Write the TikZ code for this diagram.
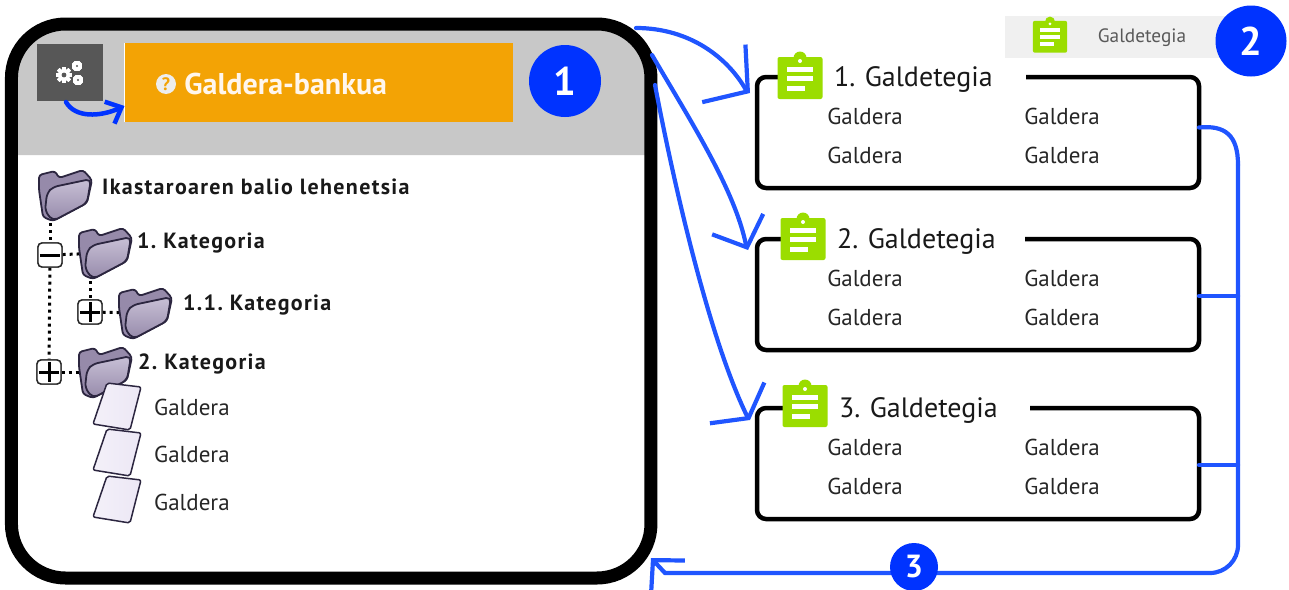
\documentclass[tikz,border=0pt]{standalone}
\usepackage{fontspec}
\setmainfont{PT Sans}
\newfontfamily\treefont[LetterSpace=6]{PT Sans}
\usetikzlibrary{arrows.meta, positioning, calc}
\definecolor{headgrey}{RGB}{200,200,200}
\definecolor{gearbox}{RGB}{87,87,87}
\definecolor{bankorange}{RGB}{243,163,5}
\definecolor{markblue}{RGB}{0,51,255}
\definecolor{linkblue}{RGB}{32,85,255}
\definecolor{clipgreen}{RGB}{155,221,0}
\definecolor{tabgrey}{RGB}{240,240,240}
\definecolor{folderline}{RGB}{44,38,64}
\definecolor{folderlight}{RGB}{200,192,214}
\definecolor{folderdark}{RGB}{150,138,170}
\definecolor{sheetfill}{RGB}{236,231,245}
\tikzset{
    linkline/.style={draw=linkblue, line width=4.2pt, line cap=round},
    quizbox/.style={draw=black, line width=4.5pt, rounded corners=9pt, minimum width=442pt, minimum height=111pt, outer sep=0pt},
    quiztitle/.style={fill=white, anchor=west, text height=18pt, text depth=0pt, inner ysep=8pt, inner xsep=12pt, font=\fontsize{28}{31}\selectfont, text=black!90},
    qtext/.style={font=\fontsize{23}{26}\selectfont, text=black!85},
    treetext/.style={anchor=west, inner sep=0pt, text height=14pt, text depth=0pt, font=\treefont\bfseries\fontsize{22}{25}\selectfont, text=black!90},
    marker/.style={circle, fill=markblue, text=white, font=\bfseries\fontsize{40}{44}\selectfont, inner sep=0pt},
    togglebox/.style={draw=black!85, fill=white, line width=1.4pt, rounded corners=4pt, minimum size=24pt, inner sep=0pt},
    togglebar/.style={draw=black, line width=3pt, shorten >=2.5pt, shorten <=2.5pt},
    treedots/.style={draw=black, line width=3pt, dash pattern=on 3pt off 4pt},
    pics/clipboard/.style={code={
        \fill[clipgreen, rounded corners=2pt] (-22.5,-20) rectangle (22.5,22);
        \fill[clipgreen] (0,-19) circle[radius=6.5];
        \fill[white] (0,-16) circle[radius=2];
        \fill[white] (-13,-10.5) rectangle (13,-5.5);
        \fill[white] (-13,-1) rectangle (13,4);
        \fill[white] (-13,8.5) rectangle (5,13.5);
    }},
    pics/folder/.style={code={
        \filldraw[draw=folderline, line width=1.8pt, fill=folderdark, rounded corners=3pt]
            (-26,-20) -- (-10,-24) -- (-6,-17) -- (18,-25) -- (27,-15) -- (22,8) -- (-12,26) -- (-22,22) -- (-26,-5) -- cycle;
        \filldraw[draw=folderline, line width=1.8pt, top color=folderlight, bottom color=folderdark, rounded corners=5pt]
            (-20,16) -- (-18,-2) -- (-12,-8) -- (26,-16) -- (22,8) -- (-12,26) -- cycle;
    }},
    pics/sheet/.style={code={
        \filldraw[draw=folderline, line width=1.5pt, left color=sheetfill!60!white, right color=sheetfill, rounded corners=2pt]
            (-13,-25) -- (21,-21) -- (10,22) -- (-27,16) -- cycle;
    }},
    pics/gear/.style={code={
        \foreach \a in {0,45,...,315}
            \fill[white, rotate=\a] (-1.8,-#1-2) rectangle (1.8,#1+2);
        \fill[white] (0,0) circle[radius=#1];
        \fill[gearbox] (0,0) circle[radius=#1*0.4];
    }}
}

\begin{document}
\frenchspacing
\begin{tikzpicture}[x=1pt, y=-1pt]
    \useasboundingbox (0,0) rectangle (1289,589);

    \fill[headgrey] (11.5,155) [rounded corners=48pt] -- (11.5,24) -- (651,24) [sharp corners] -- (651,155) -- cycle;
    \node[draw=black, line width=13pt, rounded corners=54pt, minimum width=639.5pt, minimum height=554pt, outer sep=0pt] (panel) at (331.2,301) {};

    \node[fill=gearbox, minimum width=66pt, minimum height=57pt, inner sep=0pt, outer sep=0pt] (gearicon) at (70,72.5) {};
    \pic at (64,75) {gear=6};
    \pic at (77,66) {gear=3};
    \pic at (78,80) {gear=3};
    \node[fill=bankorange, minimum width=388pt, minimum height=79pt, inner sep=0pt, outer sep=0pt] (bankbar) at (318.5,82.5) {};
    \draw[white, line width=1.2pt] (bankbar.north west) -- (bankbar.south west);
    \node[circle, fill=white!93!black, text=bankorange, inner sep=0pt, minimum size=20pt, font=\bfseries\fontsize{18}{18}\selectfont] (helpicon) at (166,84) {?};
    \node[right=8pt of helpicon, inner sep=0pt, text=white!93!orange, font=\bfseries\fontsize{30}{34}\selectfont] (banktitle) {Galdera-bankua};
    \node[marker, minimum size=72pt] (mark1) at (565,81) {1};

    \coordinate (fold0) at (65,195);
    \coordinate (fold1) at (105,253);
    \coordinate (fold2) at (145,313);
    \coordinate (fold3) at (105,372);
    \node[togglebox] (minus1) at (50,255) {};
    \node[togglebox] (plus2) at (90,312) {};
    \node[togglebox] (plus3) at (49,372) {};
    \draw[treedots] (fold0 -| minus1) -- (minus1);
    \draw[treedots] (minus1) -- (plus3);
    \draw[treedots] (fold1 -| plus2) -- (plus2);
    \draw[treedots] (minus1) -- (fold1);
    \draw[treedots] (plus2) -- (fold2);
    \draw[treedots] (plus3) -- (fold3);
    \node[togglebox] at (minus1) {};
    \node[togglebox] at (plus2) {};
    \node[togglebox] at (plus3) {};
    \draw[togglebar] (minus1.west) -- (minus1.east);
    \draw[togglebar] (plus2.west) -- (plus2.east);
    \draw[togglebar] (plus2.north) -- (plus2.south);
    \draw[togglebar] (plus3.west) -- (plus3.east);
    \draw[togglebar] (plus3.north) -- (plus3.south);
    \foreach \f in {0,1,2,3}
        \pic at (fold\f) {folder};

    \node[treetext] (cat0) at (102,187) {Ikastaroaren balio lehenetsia};
    \node[treetext] (cat1) at (137,241) {1. Kategoria};
    \node[treetext] (cat2) at (183,303) {1.1. Kategoria};
    \node[treetext] (cat3) at (138,362) {2. Kategoria};

    \foreach \s/\y/\ly in {1/408/407,2/454/454,3/501/502} {
        \pic at (120,\y) {sheet};
        \node[qtext, anchor=west, inner sep=0pt] (leaf\s) at (154,\ly) {Galdera};
    }

    \node[fill=tabgrey, minimum width=235pt, minimum height=42pt, inner sep=0pt, outer sep=0pt] (quiztab) at (1122.5,37) {};
    \pic[scale=0.76] at (1050,36) {clipboard};
    \node[text=black!65, inner sep=0pt, font=\fontsize{19.3}{22}\selectfont] (tablabel) at (1142,38) {Galdetegia};
    \node[marker, minimum size=71pt] (mark2) at (1251,41) {2};

    \foreach \n/\top/\cx/\cy/\tx/\tw/\lab in {1/77/800/77/822/180/1. Galdetegia, 2/239/803/238/825/176/2. Galdetegia, 3/408/805/405/827/179/3. Galdetegia} {
        \node[quizbox] (quiz\n) at (978,\top+55.5) {};
        \node[quiztitle, text width=\tw pt] (title\n) at (\tx,\top+0.5) {\lab};
        \pic at (\cx,\cy) {clipboard};
        \node[qtext] (q\n a) at ($(quiz\n.north west)+(108,39)$) {Galdera};
        \node[qtext] (q\n b) at ($(quiz\n.north west)+(305,39)$) {Galdera};
        \node[qtext] (q\n c) at ($(quiz\n.north west)+(108,78)$) {Galdera};
        \node[qtext] (q\n d) at ($(quiz\n.north west)+(305,78)$) {Galdera};
    }

    \coordinate (from1) at (636,28);
    \coordinate (from2) at (652,55);
    \coordinate (from3) at (655,85);
    \coordinate (near1) at (746,90);
    \coordinate (near2) at (746,245);
    \coordinate (near3) at (747,416);
    \coordinate (tip1) at (750,93);
    \coordinate (tip2) at (748,250);
    \coordinate (tip3) at (750,420);
    \coordinate (railtop) at (1238,165);
    \coordinate (railbottom) at (1238,573);
    \coordinate (railend) at (665,573);
    \coordinate (backtip) at (651,558);
    \draw[linkline, -{Straight Barb[length=30pt, width=72pt]}] (from1) .. controls (690,28) and (728,58) .. (near1) -- (tip1);
    \draw[linkline, -{Straight Barb[length=25pt, width=55pt]}] (from2) .. controls (690,120) and (735,190) .. (near2) -- (tip2);
    \draw[linkline, -{Straight Barb[length=19pt, width=68pt]}] (from3) .. controls (675,190) and (710,340) .. (near3) -- (tip3);
    \draw[linkline] ($(quiz1.east)+(0,-5)$) .. controls (1225,125) and (1238,135) .. (railtop);
    \draw[linkline, rounded corners=28pt] (railtop) -- (railbottom) -- (railend);
    \draw[linkline, -{Straight Barb[length=22pt, width=46pt]}, rounded corners=3pt] (railend) -- (backtip);
    \draw[linkline] ($(quiz2.east)+(0,1.5)$) -- ($(quiz2.east)+(39,1.5)$);
    \draw[linkline] ($(quiz3.east)+(0,1.5)$) -- ($(quiz3.east)+(39,1.5)$);
    \node[marker, minimum size=48pt, font=\bfseries\fontsize{32}{36}\selectfont] (mark3) at (914,567) {3};

    \draw[draw=markblue, line width=4.5pt, line cap=round, -{Straight Barb[length=13pt, width=24pt]}] (66,102) .. controls (75,118) and (100,117) .. (bankbar.west |- 0,106);
\end{tikzpicture}
\end{document}
